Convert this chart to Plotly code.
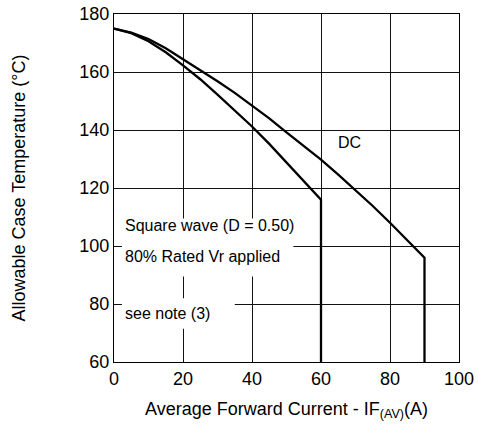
import plotly.graph_objects as go

# Case temperature derating vs. average forward current
square_current = [0, 5, 10, 15, 20, 25, 30, 35, 40, 45, 50, 55, 60, 60]
square_temp = [175, 173.4, 170.6, 166.8, 162.3, 157.5, 152.2, 146.8, 141.2, 135.2, 128.9, 122.5, 116, 60]

dc_current = [0, 5, 10, 15, 20, 25, 30, 35, 40, 45, 50, 55, 60, 65, 70, 75, 80, 85, 90, 90]
dc_temp = [175, 173.6, 171.4, 168.2, 164.4, 160.7, 156.8, 152.8, 148.5, 144.0, 139.2,
           134.5, 129.8, 124.6, 119.3, 113.8, 108.0, 102.1, 96, 60]

x_ticks = [0, 20, 40, 60, 80, 100]
y_ticks = [60, 80, 100, 120, 140, 160, 180]

FONT = "Liberation Sans, Arial, sans-serif"

fig = go.Figure()
for xs, ys in [(square_current, square_temp), (dc_current, dc_temp)]:
    fig.add_trace(go.Scatter(
        x=xs, y=ys, mode="lines",
        line=dict(color="black", width=2.3),
        hoverinfo="skip", showlegend=False,
    ))

# white patches behind the labels so gridlines stop around the text
for x0, x1, y0, y1 in [(2.3, 52, 89.5, 109.5), (2.3, 35, 71.5, 82)]:
    fig.add_shape(type="rect", xref="x", yref="y", x0=x0, x1=x1, y0=y0, y1=y1,
                  fillcolor="white", line=dict(width=0), layer="between")

fig.add_annotation(x=68.4, y=135.6, text="DC", showarrow=False, xanchor="center",
                   font=dict(size=16, color="black", family=FONT),
                   bgcolor="white", borderpad=2)
fig.add_annotation(x=2.6, y=107, text="Square wave (D = 0.50)", showarrow=False,
                   xanchor="left", font=dict(size=16, color="black", family=FONT))
fig.add_annotation(x=2.6, y=96.3, text="80% Rated Vr applied", showarrow=False,
                   xanchor="left", font=dict(size=16, color="black", family=FONT))
fig.add_annotation(x=2.6, y=76.6, text="see note (3)", showarrow=False,
                   xanchor="left", font=dict(size=16, color="black", family=FONT))

axis_common = dict(
    showgrid=True, gridcolor="#111111", gridwidth=1, automargin=False,
    showline=True, linecolor="black", linewidth=1, mirror=True,
    zeroline=False, ticks="", tickfont=dict(size=18, color="black", family=FONT),
)
fig.update_xaxes(range=[0, 100], tickvals=x_ticks, **axis_common,
                 title=dict(text="Average Forward Current - IF<sub>(AV)</sub>(A)",
                            font=dict(size=18, color="black", family=FONT), standoff=14))
fig.update_yaxes(range=[60, 180], tickvals=y_ticks, **axis_common,
                 title=dict(text="Allowable Case Temperature (°C)",
                            font=dict(size=18, color="black", family=FONT), standoff=49))

fig.update_layout(
    template="none",
    width=478, height=432,
    margin=dict(l=114, r=19, t=14, b=70),
    paper_bgcolor="white", plot_bgcolor="white",
)

fig.write_html("out.html")
